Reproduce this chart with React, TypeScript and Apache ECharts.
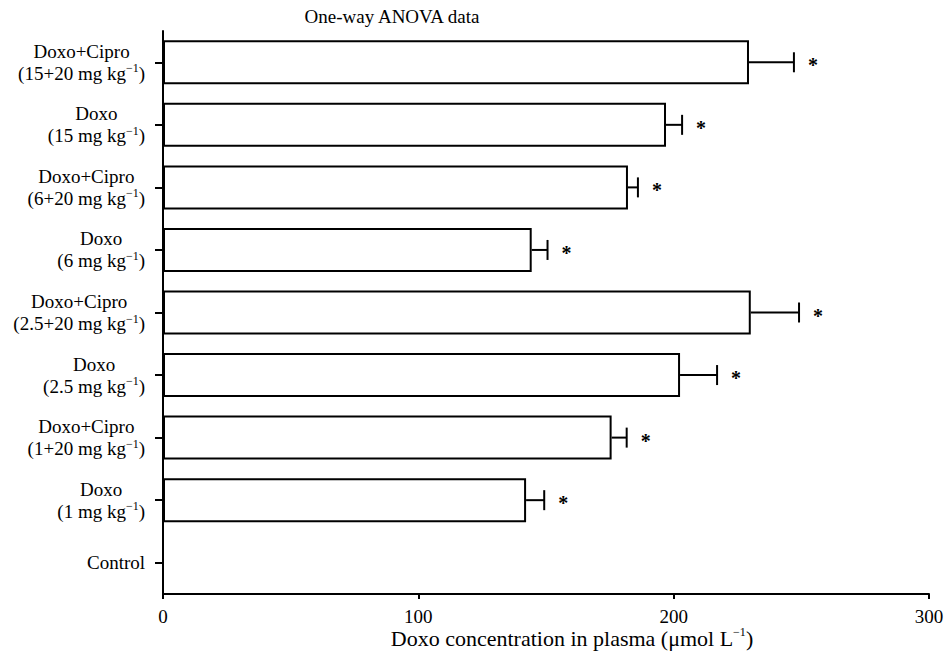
import React, { useEffect, useRef } from "react";
import * as echarts from "echarts";

const FONT = "'Liberation Serif', 'Times New Roman', serif";

const titleText = "One-way ANOVA data";
const axisNameMain = "Doxo concentration in plasma (μmol L";
const categories = ["Control", "Doxo", "Doxo+Cipro", "Doxo", "Doxo+Cipro", "Doxo", "Doxo+Cipro", "Doxo", "Doxo+Cipro"];
const doses = ["", "1", "1+20", "2.5", "2.5+20", "6", "6+20", "15", "15+20"];
const means: (number | null)[] = [null, 142.2, 175.7, 202.5, 230.2, 144.4, 182.1, 197.0, 229.5];
const sems: (number | null)[] = [null, 7.1, 5.9, 14.5, 18.9, 6.2, 3.9, 6.3, 17.6];
const xTicks = [0, 100, 200, 300];

const richStyles = {
  t: { fontSize: 19, fontFamily: FONT, color: "#000", align: "center", lineHeight: 22 },
  s: { fontSize: 12, fontFamily: FONT, color: "#000", align: "center", verticalAlign: "top", lineHeight: 8 },
};

export default function App() {
  const ref = useRef<HTMLDivElement>(null);
  useEffect(() => {
    if (!ref.current) return;
    const chart = echarts.init(ref.current, null, { renderer: "svg" });
    const yLabels = categories.map((c, i) => (doses[i] ? `${c} (${doses[i]} mg kg−1)` : c));
    const errData = means
      .map((m, i) => (m == null || sems[i] == null ? null : [m, m + (sems[i] as number), i]))
      .filter((d) => d !== null);
    chart.setOption({
      animation: false,
      backgroundColor: "#fff",
      grid: { left: 163, right: 18, top: 31, bottom: 62, containLabel: false },
      xAxis: {
        type: "value",
        min: xTicks[0],
        max: xTicks[xTicks.length - 1],
        interval: 100,
        axisLine: { show: true, lineStyle: { color: "#000", width: 2 } },
        axisTick: { show: true, length: 5, lineStyle: { color: "#000", width: 2 } },
        axisLabel: { color: "#000", fontSize: 19, fontFamily: FONT, margin: 13 },
        splitLine: { show: false },
      },
      yAxis: {
        type: "category",
        data: yLabels,
        axisLine: { show: true, lineStyle: { color: "#000", width: 2 } },
        axisTick: { show: true, alignWithLabel: true, length: 8, lineStyle: { color: "#000", width: 2 } },
        axisLabel: {
          margin: 18,
          align: "right",
          formatter: (_v: string, i: number) =>
            doses[i]
              ? `{t|${categories[i]}}\n{t|(${doses[i]} mg kg}{s|−1}{t|)}`
              : `{t|${categories[i]}}`,
          rich: richStyles,
        },
        splitLine: { show: false },
      },
      series: [
        {
          type: "bar",
          data: means,
          barWidth: 44,
          itemStyle: { color: "#fff", borderColor: "#000", borderWidth: 2 },
          silent: true,
        },
        {
          type: "custom",
          data: errData,
          encode: { x: [0, 1], y: 2 },
          z: 5,
          silent: true,
          renderItem: (params: any, api: any) => {
            const m = api.value(0);
            const u = api.value(1);
            const idx = api.value(2);
            const p0 = api.coord([m, idx]);
            const p1 = api.coord([u, idx]);
            const ls = { stroke: "#000", lineWidth: 2 };
            return {
              type: "group",
              children: [
                { type: "line", shape: { x1: p0[0], y1: p0[1], x2: p1[0], y2: p1[1] }, style: ls },
                { type: "line", shape: { x1: p1[0], y1: p1[1] - 10, x2: p1[0], y2: p1[1] + 10 }, style: ls },
                {
                  type: "text",
                  x: p1[0] + 19,
                  y: p1[1] + 3,
                  style: {
                    text: "*",
                    fill: "#000",
                    font: `bold 20px ${FONT}`,
                    align: "center",
                    verticalAlign: "middle",
                    textAlign: "center",
                    textVerticalAlign: "middle",
                  },
                },
              ],
            };
          },
        },
      ],
      graphic: [
        {
          type: "text",
          x: 392,
          y: 16,
          style: {
            text: titleText,
            fill: "#000",
            font: `19px ${FONT}`,
            align: "center",
            verticalAlign: "middle",
            textAlign: "center",
            textVerticalAlign: "middle",
          },
        },
        {
          type: "text",
          x: 572,
          y: 638,
          style: {
            text: `{n|${axisNameMain}}{s|−1}{n|)}`,
            align: "center",
            verticalAlign: "middle",
            textAlign: "center",
            textVerticalAlign: "middle",
            rich: {
              n: { fontSize: 22, fontFamily: FONT, fill: "#000", color: "#000", lineHeight: 24 },
              s: { fontSize: 12, fontFamily: FONT, fill: "#000", color: "#000", verticalAlign: "top", lineHeight: 9 },
            },
          },
        },
      ],
    });
    return () => chart.dispose();
  }, []);
  return (
    <div
      ref={ref}
      style={{ position: "fixed", left: 0, top: 0, width: 947, height: 656, background: "#fff" }}
    />
  );
}
